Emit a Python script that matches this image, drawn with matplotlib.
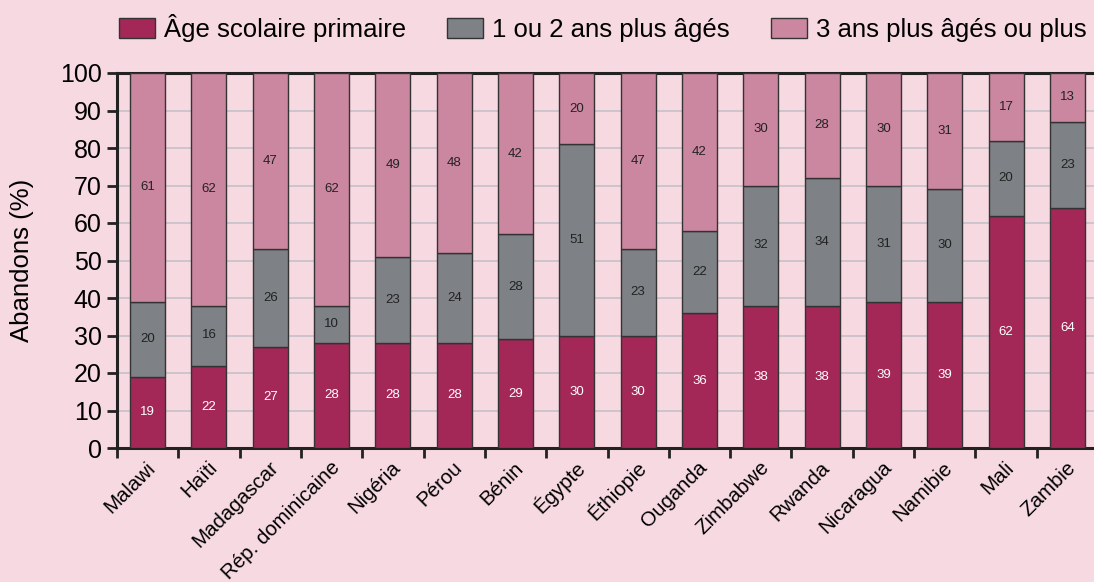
import matplotlib
matplotlib.use("Agg")
import matplotlib.pyplot as plt
import matplotlib.transforms as mtransforms
import numpy as np

plt.rcParams['font.family'] = ['Liberation Sans', 'DejaVu Sans']

countries = ["Malawi", "Haïti", "Madagascar", "Rép. dominicaine", "Nigéria", "Pérou",
             "Bénin", "Égypte", "Éthiopie", "Ouganda", "Zimbabwe", "Rwanda",
             "Nicaragua", "Namibie", "Mali", "Zambie"]
primary = [19, 22, 27, 28, 28, 28, 29, 30, 30, 36, 38, 38, 39, 39, 62, 64]
older_1_2 = [20, 16, 26, 10, 23, 24, 28, 51, 23, 22, 32, 34, 31, 30, 20, 23]
older_3 = [61, 62, 47, 62, 49, 48, 42, 20, 47, 42, 30, 28, 30, 31, 17, 13]
series_names = ["Âge scolaire primaire", "1 ou 2 ans plus âgés", "3 ans plus âgés ou plus"]
yticks = [0, 10, 20, 30, 40, 50, 60, 70, 80, 90, 100]

bg = "#F6D9E1"
c_primary = "#A42857"
c_gray = "#7E8185"
c_pink = "#CC87A0"

fig = plt.figure(figsize=(10.94, 5.82), dpi=100, facecolor=bg)
ax = fig.add_axes([117/1094, 1 - 448/582, (1098 - 117)/1094, (448 - 73)/582])
ax.set_facecolor(bg)

x = np.arange(len(countries))
w = 0.57
p = np.array(primary)
g = np.array(older_1_2)
k = np.array(older_3)
# the top segment fills the remainder up to 100 % (labels keep the published rounded values)
k_draw = 100 - p - g
ec = "#333333"
b1 = ax.bar(x, p, w, color=c_primary, edgecolor=ec, linewidth=1.0, zorder=3, label=series_names[0])
b2 = ax.bar(x, g, w, bottom=p, color=c_gray, edgecolor=ec, linewidth=1.0, zorder=3, label=series_names[1])
b3 = ax.bar(x, k_draw, w, bottom=p + g, color=c_pink, edgecolor=ec, linewidth=1.0, zorder=3, label=series_names[2])

for i in range(len(countries)):
    ax.text(x[i], p[i] / 2, str(primary[i]), ha='center', va='center', color='white', fontsize=9.5, zorder=4)
    ax.text(x[i], p[i] + g[i] / 2, str(older_1_2[i]), ha='center', va='center', color='#222222', fontsize=9.5, zorder=4)
    ax.text(x[i], (p[i] + g[i] + 100) / 2, str(older_3[i]), ha='center', va='center', color='#222222', fontsize=9.5, zorder=4)

ax.set_ylim(0, 100)
ax.set_xlim(-0.5, len(countries) - 0.5)
ax.set_yticks(yticks)
ax.set_yticklabels([str(t) for t in yticks], fontsize=18)
ax.yaxis.grid(True, color="#C9C3C9", linewidth=1.3, zorder=0)
ax.set_axisbelow(True)

ax.set_xticks(np.arange(-0.5, len(countries) - 0.5, 1.0))
ax.set_xticklabels([])
ax.set_xticks(x, minor=True)
ax.set_xticklabels(countries, minor=True, rotation=45, ha='right', va='center',
                   rotation_mode='anchor', fontsize=14.8)
ax.tick_params(axis='x', which='minor', length=0, pad=12)
offset = mtransforms.ScaledTranslation(5/100, 0, fig.dpi_scale_trans)
for lbl in ax.get_xticklabels(minor=True):
    lbl.set_transform(lbl.get_transform() + offset)
ax.tick_params(axis='x', which='major', length=7, width=2, color='#222222', direction='out')
ax.tick_params(axis='y', length=7, width=2, color='#222222', direction='out', pad=4)

for s in ['left', 'bottom', 'top']:
    ax.spines[s].set_linewidth(2.2)
    ax.spines[s].set_color('#222222')
ax.spines['right'].set_visible(False)

ax.set_ylabel("Abandons (%)", fontsize=18.5)
ax.yaxis.set_label_coords(-0.085, 0.5)

leg = fig.legend(handles=[b1, b2, b3], loc='center left', bbox_to_anchor=(119/1094, 1 - 28/582),
                 ncol=3, frameon=False, fontsize=18.5, handlelength=1.4, handleheight=0.8,
                 handletextpad=0.35, columnspacing=1.6, borderaxespad=0, borderpad=0)

fig.savefig("out.png", dpi=100, facecolor=bg)
